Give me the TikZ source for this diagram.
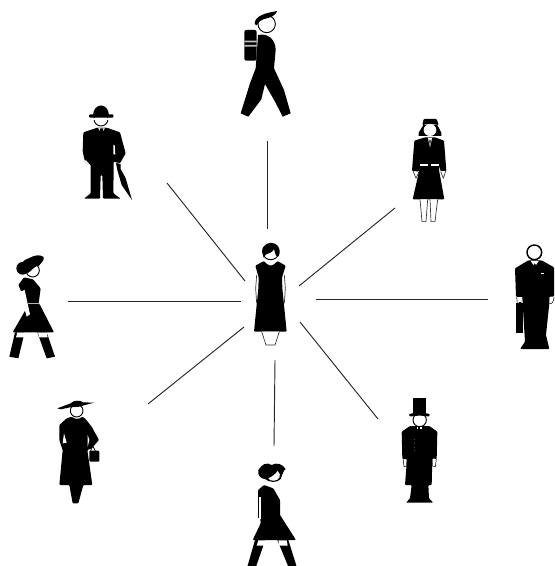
\documentclass[tikz,border=0pt]{standalone}
\tikzset{
  x=.25pt,y=-.25pt,
  ink/.style={fill=black,draw=none,rounded corners=.7pt},
  sharp/.style={fill=black,draw=none},
  face/.style={fill=white,draw=black,line width=.7pt},
  skin/.style={fill=white,draw=black!80,line width=.5pt,line join=round},
  link/.style={draw=black!85,line width=.7pt}
}
\begin{document}
\begin{tikzpicture}
\useasboundingbox (0,0) rectangle (1662,1698);
% ---------- connector ends
\coordinate (ua) at (801,423); \coordinate (ub) at (801,687);
\coordinate (ula) at (501,549); \coordinate (ulb) at (735,843);
\coordinate (ura) at (1185,624); \coordinate (urb) at (897,858);
\coordinate (la) at (204,903); \coordinate (lb) at (723,903);
\coordinate (ra) at (948,897); \coordinate (rb) at (1464,897);
\coordinate (lla) at (444,1212); \coordinate (llb) at (732,981);
\coordinate (lra) at (1134,1257); \coordinate (lrb) at (900,966);
\coordinate (da) at (825,1080); \coordinate (db) at (822,1338);
\foreach \p/\q in {ua/ub,ula/ulb,ura/urb,la/lb,ra/rb,lla/llb,lra/lrb,da/db}
  \draw[link] (\p) -- (\q);
% ---------- hiker (top)
\begin{scope}[shift={(660,0)}]
\draw[face] (140,72) circle (26);
\fill[sharp] (104,72) .. controls (103,47) and (140,38) .. (172,33) .. controls (165,46) and (155,52) .. (140,55) .. controls (125,58) and (114,66) .. (110,76) -- cycle;
\fill[rounded corners=1.5pt] (73,90) rectangle (110,182);
\fill[white!75!black] (73,122) rectangle (110,127) (73,135) rectangle (110,140);
\fill[sharp] (114,105) .. controls (145,98) and (167,120) .. (167,150) -- (162,205) -- (192,270) -- (212,340) -- (188,350) -- (165,305) -- (135,252) -- (124,298) -- (85,350) -- (62,340) -- (90,250) -- (107,205) -- (110,165) -- cycle;
\end{scope}
% ---------- bowler hat man
\begin{scope}[shift={(210,285)}]
\draw[face] (93,72) circle (21);
\fill[sharp] (68,62) .. controls (68,20) and (118,20) .. (118,62) -- cycle;
\fill[ink] (57,58) rectangle (130,68);
\fill[white] (70,68) rectangle (116,74);
\fill[ink] (40,112) -- (82,98) -- (110,98) -- (150,112) -- (167,175) -- (150,205) -- (131,200) -- (131,215) -- (130,295) -- (152,311) -- (99,311) -- (97,240) -- (92,240) -- (90,311) -- (42,311) -- (62,295) -- (62,215) -- (45,200) -- (38,170) -- cycle;
\fill[white] (84,98) -- (105,98) -- (100,108) -- (90,108) -- cycle;
\fill[sharp] (90,100) -- (100,100) -- (98,120) -- (92,120) -- cycle;
\fill[white] (130,150) -- (134,150) -- (136,178) -- (130,178) -- cycle;
\fill[white] (42,196) -- (48,196) -- (62,212) -- (62,217) -- cycle;
\fill[white] (132,203) rectangle (150,214);
\fill[sharp] (138,204) -- (152,207) -- (152,222) -- (167,250) -- (186,315) -- (155,270) -- (142,225) -- cycle;
\end{scope}
% ---------- uniform woman
\begin{scope}[shift={(1200,330)}]
\fill[sharp] (70,45) -- (56,68) -- (56,78) -- (70,78) -- (110,78) -- (124,78) -- (124,68) -- (112,45) -- cycle;
\fill[white] (90,60) ellipse (19 and 18);
\fill[ink] (67,45) -- (71,27) -- (110,27) -- (116,45) -- (90,41) -- cycle;
\draw[skin] (38,180) -- (48,205) -- (57,185);
\draw[skin] (138,180) -- (130,205) -- (122,185);
\fill[ink] (43,92) -- (75,82) -- (105,82) -- (132,92) -- (139,182) -- (122,184) -- (117,165) -- (117,180) -- (133,268) -- (38,268) -- (58,180) -- (59,165) -- (56,185) -- (36,182) -- cycle;
\fill[white] (84,84) -- (96,84) -- (91,110) -- (89,110) -- cycle;
\fill[black] (88,90) -- (92,90) -- (91,108) -- (89,108) -- cycle;
\fill[white] (59,163) rectangle (116,168);
\fill[black] (85,163) rectangle (93,168);
\draw[skin] (60,268) -- (66,335) -- (78,335) -- (83,268);
\draw[skin] (90,268) -- (93,335) -- (105,335) -- (113,268);
\end{scope}
% ---------- businessman
\begin{scope}[shift={(1500,705)}]
\fill[ink] (45,100) -- (85,76) -- (125,76) -- (162,97) -- (162,185) -- (148,185) -- (148,205) -- (138,300) -- (148,342) -- (60,342) -- (75,320) -- (70,240) -- (68,188) -- (48,185) -- cycle;
\draw[face,line width=1.1pt] (103,52) circle (22);
\fill[white] (92,78) -- (116,78) -- (108,90) -- (104,84) -- (100,90) -- cycle;
\fill[white] (122,113) rectangle (133,117);
\draw[skin] (50,186) -- (52,208) -- (66,205) -- (67,186);
\fill[black] (48,205) rectangle (70,295);
\fill[black] (56,200) rectangle (62,206);
\draw[skin] (148,205) .. controls (155,210) and (161,200) .. (162,186);
\end{scope}
% ---------- top hat man
\begin{scope}[shift={(1170,1170)}]
\draw[face] (89,90) circle (20);
\fill[sharp] (70,25) rectangle (107,70);
\fill[ink] (57,76) .. controls (60,67) and (116,67) .. (120,76) .. controls (115,81) and (105,77) .. (89,77) .. controls (72,77) and (62,81) .. (57,76) -- cycle;
\draw[skin] (39,205) -- (42,230) -- (50,228) -- (51,205);
\draw[skin] (139,205) -- (136,230) -- (127,228) -- (126,205);
\fill[ink] (35,125) -- (60,108) -- (118,108) -- (142,125) -- (140,207) -- (127,205) -- (125,285) -- (115,285) -- (117,325) -- (130,338) -- (48,338) -- (60,325) -- (65,285) -- (45,285) -- (51,207) -- (37,207) -- cycle;
\fill[white] (80,110) rectangle (95,116);
\fill[black] (85,112) rectangle (90,122);
\foreach \y in {148,160,172,182}\fill[gray!60] (73,\y) circle (1.2);
\end{scope}
% ---------- walking woman (bottom)
\begin{scope}[shift={(720,1365)}]
\fill[sharp] (55,45) .. controls (65,28) and (80,20) .. (95,30) .. controls (110,22) and (125,25) .. (137,42) .. controls (130,46) and (127,60) .. (122,72) .. controls (112,85) and (85,82) .. (75,72) .. controls (62,72) and (52,60) .. (55,45) -- cycle;
\fill[white] (85,70) .. controls (95,66) and (110,55) .. (112,48) .. controls (120,55) and (122,62) .. (118,68) .. controls (112,80) and (90,80) .. (85,70) -- cycle;
\fill[ink] (54,105) -- (72,90) -- (100,100) -- (120,135) -- (120,180) -- (168,255) -- (38,255) -- (62,205) -- cycle;
\fill[white] (58,125) rectangle (64,192);
\fill[black] (54,110) rectangle (57,190);
\fill[sharp] (45,255) -- (76,255) -- (48,335) -- (22,335) -- cycle;
\fill[sharp] (112,255) -- (145,255) -- (170,335) -- (145,335) -- cycle;
\fill[white] (55,256) -- (78,256) -- (73,272) -- (50,272) -- cycle;
\fill[white] (115,256) -- (140,256) -- (143,272) -- (118,272) -- cycle;
\end{scope}
% ---------- lady with hat and bag
\begin{scope}[shift={(150,1170)}]
\draw[face] (80,62) circle (19);
\fill[sharp] (22,55) .. controls (40,48) and (52,44) .. (62,40) .. controls (70,30) and (90,30) .. (100,37) -- (132,38) -- (102,46) -- (90,50) -- (60,52) -- (32,58) -- cycle;
\fill[ink] (28,105) -- (50,85) -- (65,80) .. controls (75,88) and (88,88) .. (96,80) -- (105,85) -- (125,110) -- (147,150) -- (125,175) -- (112,180) -- (127,285) -- (100,285) -- (85,340) -- (68,340) -- (58,285) -- (28,285) -- (38,180) -- (28,150) -- cycle;
\fill[white] (42,130) -- (50,158) -- (38,160) -- cycle;
\fill[white] (113,135) -- (118,150) -- (113,170) -- cycle;
\fill[ink] (118,182) -- (148,182) -- (148,215) -- (118,215) -- cycle;
\draw[line width=.6pt] (122,182) -- (128,168) -- (136,182);
\end{scope}
% ---------- striding woman (left)
\begin{scope}[shift={(0,735)}]
\draw[face] (98,76) circle (20);
\fill[sharp] (68,70) circle (19);
\fill[sharp] (66,55) .. controls (72,42) and (85,42) .. (90,38) .. controls (105,30) and (120,28) .. (131,36) .. controls (134,46) and (122,55) .. (117,62) .. controls (105,62) and (100,72) .. (84,84) -- (60,70) -- cycle;
\fill[ink] (55,120) -- (72,97) .. controls (82,100) and (92,100) .. (100,104) -- (122,130) -- (116,175) -- (120,180) -- (162,262) -- (38,262) -- (85,180) -- (80,175) -- cycle;
\fill[white] (60,140) -- (74,135) -- (90,208) -- (80,215) -- cycle;
\fill[white!70!black] (84,173) rectangle (117,178);
\fill[sharp] (45,262) -- (74,262) -- (55,340) -- (28,335) -- cycle;
\fill[sharp] (112,262) -- (140,262) -- (165,335) -- (140,340) -- cycle;
\fill[white] (52,263) -- (76,263) -- (72,277) -- (48,277) -- cycle;
\fill[white] (114,263) -- (140,263) -- (143,277) -- (118,277) -- cycle;
\end{scope}
% ---------- central woman
\begin{scope}[shift={(720,705)}]
\draw[skin] (50,120) -- (47,160) -- (50,205);
\draw[skin] (133,120) -- (136,160) -- (133,205);
\draw[line width=.7pt] (70,56) .. controls (73,80) and (110,80) .. (116,56);
\fill[sharp] (66,50) .. controls (66,28) and (90,18) .. (105,26) .. controls (120,33) and (122,52) .. (116,64) -- (108,62) .. controls (106,55) and (103,48) .. (102,42) .. controls (100,50) and (88,55) .. (78,58) -- (71,68) -- cycle;
\fill[ink] (46,92) -- (72,78) .. controls (78,86) and (85,90) .. (92,92) .. controls (100,90) and (106,86) .. (112,78) -- (137,92) -- (126,128) -- (127,160) -- (140,290) -- (42,290) -- (55,160) -- (56,128) -- cycle;
\draw[skin] (65,290) -- (78,330) -- (105,330) -- (118,290);
\end{scope}
\end{tikzpicture}
\end{document}
